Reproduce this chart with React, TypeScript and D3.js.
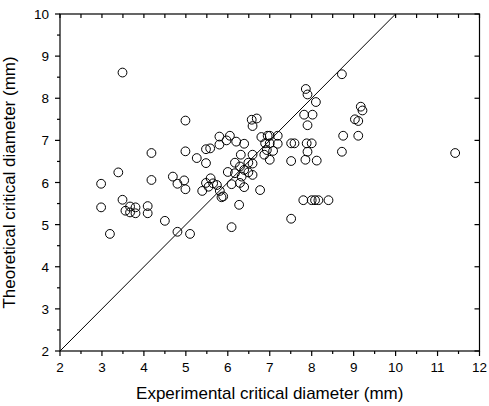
import React from "react";
import * as d3 from "d3";

const expDiameter: number[] = [
  3.49, 2.98, 2.98, 3.19, 3.39, 3.49, 3.56, 3.67, 3.8, 3.67, 3.8, 4.09, 4.09,
  4.18, 4.18, 4.5, 4.69, 4.8, 4.8, 4.96, 4.99, 4.99, 4.99, 5.1, 5.26, 5.39,
  5.48, 5.48, 5.58, 5.48, 5.59, 5.65, 5.74, 5.54, 5.81, 5.85, 5.89, 5.8, 5.97,
  6.05, 6.2, 6.39, 5.8, 6.31, 6.59, 6.17, 6.29, 6.49, 6.59, 6.39, 6.49, 6.59,
  6.0, 6.17, 6.33, 6.09, 6.29, 6.39, 6.09, 6.27, 6.77, 6.57, 6.69, 6.59, 6.8,
  6.95, 7.0, 7.19, 6.89, 7.0, 7.19, 6.87, 6.93, 7.08, 7.0, 7.51, 7.59, 7.51,
  7.51, 7.82, 8.02, 7.9, 7.86, 7.9, 8.1, 7.88, 8.0, 7.9, 7.85, 8.12, 7.8, 8.0,
  8.08, 8.16, 8.4, 8.72, 8.75, 8.72, 9.17, 9.21, 9.03, 9.11, 9.11, 11.42,
];
const theoDiameter: number[] = [
  8.61, 5.97, 5.41, 4.78, 6.24, 5.59, 5.33, 5.43, 5.41, 5.29, 5.27, 5.44, 5.27,
  6.7, 6.06, 5.09, 6.14, 5.97, 4.83, 6.05, 5.84, 7.47, 6.74, 4.78, 6.58, 5.8,
  6.46, 6.79, 6.81, 5.99, 6.1, 5.98, 5.94, 5.9, 5.8, 5.65, 5.67, 7.09, 7.0,
  7.11, 6.97, 6.92, 6.9, 6.66, 6.66, 6.47, 6.38, 6.47, 6.45, 6.3, 6.24, 6.18,
  6.25, 6.22, 6.14, 5.96, 5.99, 5.89, 4.94, 5.47, 5.82, 7.49, 7.52, 7.34, 7.08,
  7.11, 7.11, 7.11, 6.93, 6.93, 6.92, 6.66, 6.77, 6.75, 6.54, 6.93, 6.93, 6.51,
  5.14, 7.61, 7.61, 7.36, 8.22, 8.09, 7.91, 6.93, 6.93, 6.73, 6.54, 6.52, 5.58,
  5.58, 5.58, 5.58, 5.58, 8.57, 7.11, 6.73, 7.8, 7.71, 7.5, 7.46, 7.11, 6.7,
];
const xTicks: number[] = [2, 3, 4, 5, 6, 7, 8, 9, 10, 11, 12];
const yTicks: number[] = [2, 3, 4, 5, 6, 7, 8, 9, 10];
const xTitle = "Experimental critical diameter (mm)";
const yTitle = "Theoretical critical diameter (mm)";
const lineStart = 2;
const lineEnd = 10;

const W = 489;
const H = 406;
const L = 60;
const R = 479.5;
const T = 14;
const B = 351;
const FONT = "'Liberation Sans', Arial, sans-serif";

export default function App() {
  const x = d3.scaleLinear().domain([2, 12]).range([L, R]);
  const y = d3.scaleLinear().domain([2, 10]).range([B, T]);
  const xMinor = d3.range(2.5, 12, 1);
  const yMinor = d3.range(2.5, 10, 1);
  const xHalf = d3.range(2, 12.01, 0.5);
  const pts = expDiameter.map((v, i) => [v, theoDiameter[i]]);
  const line = d3.line<number>().x((d) => x(d)).y((d) => y(d));

  return (
    <svg
      width={W}
      height={H}
      style={{ position: "absolute", left: 0, top: 0, background: "#fff" }}
      fontFamily={FONT}
    >
      <rect x={0} y={0} width={W} height={H} fill="#fff" />
      {/* identity line */}
      <path d={line([lineStart, lineEnd]) || ""} stroke="#000" strokeWidth={1} fill="none" />
      {/* points */}
      {pts.map((p, i) => (
        <circle key={i} cx={x(p[0])} cy={y(p[1])} r={4.4} fill="none" stroke="#000" strokeWidth={1} />
      ))}
      {/* frame */}
      <rect x={L} y={T} width={R - L} height={B - T} fill="none" stroke="#000" strokeWidth={1.2} />
      {/* bottom ticks */}
      {xTicks.map((t) => (
        <g key={"xb" + t}>
          <line x1={x(t)} x2={x(t)} y1={B} y2={B + 5} stroke="#000" strokeWidth={1.2} />
          <text x={x(t)} y={B + 21} textAnchor="middle" fontSize={13.5} fill="#000">
            {t}
          </text>
        </g>
      ))}
      {xMinor.map((t) => (
        <line key={"xm" + t} x1={x(t)} x2={x(t)} y1={B} y2={B + 3} stroke="#000" strokeWidth={1.2} />
      ))}
      {/* top ticks */}
      {xHalf.map((t) => (
        <line key={"xt" + t} x1={x(t)} x2={x(t)} y1={T} y2={T + 4} stroke="#000" strokeWidth={1.2} />
      ))}
      {/* left ticks */}
      {yTicks.map((t) => (
        <g key={"yl" + t}>
          <line x1={L - 5} x2={L} y1={y(t)} y2={y(t)} stroke="#000" strokeWidth={1.2} />
          <text x={L - 11} y={y(t) + 5} textAnchor="end" fontSize={13.5} fill="#000">
            {t}
          </text>
        </g>
      ))}
      {yMinor.map((t) => (
        <line key={"ym" + t} x1={L - 3} x2={L} y1={y(t)} y2={y(t)} stroke="#000" strokeWidth={1.2} />
      ))}
      {/* right ticks */}
      {yTicks.map((t) => (
        <line key={"yr" + t} x1={R - 5} x2={R} y1={y(t)} y2={y(t)} stroke="#000" strokeWidth={1.2} />
      ))}
      {/* titles */}
      <text x={(L + R) / 2} y={399} textAnchor="middle" fontSize={17} fill="#000">
        {xTitle}
      </text>
      <text
        transform={`translate(15, ${(T + B) / 2}) rotate(-90)`}
        textAnchor="middle"
        fontSize={17}
        fill="#000"
      >
        {yTitle}
      </text>
    </svg>
  );
}
